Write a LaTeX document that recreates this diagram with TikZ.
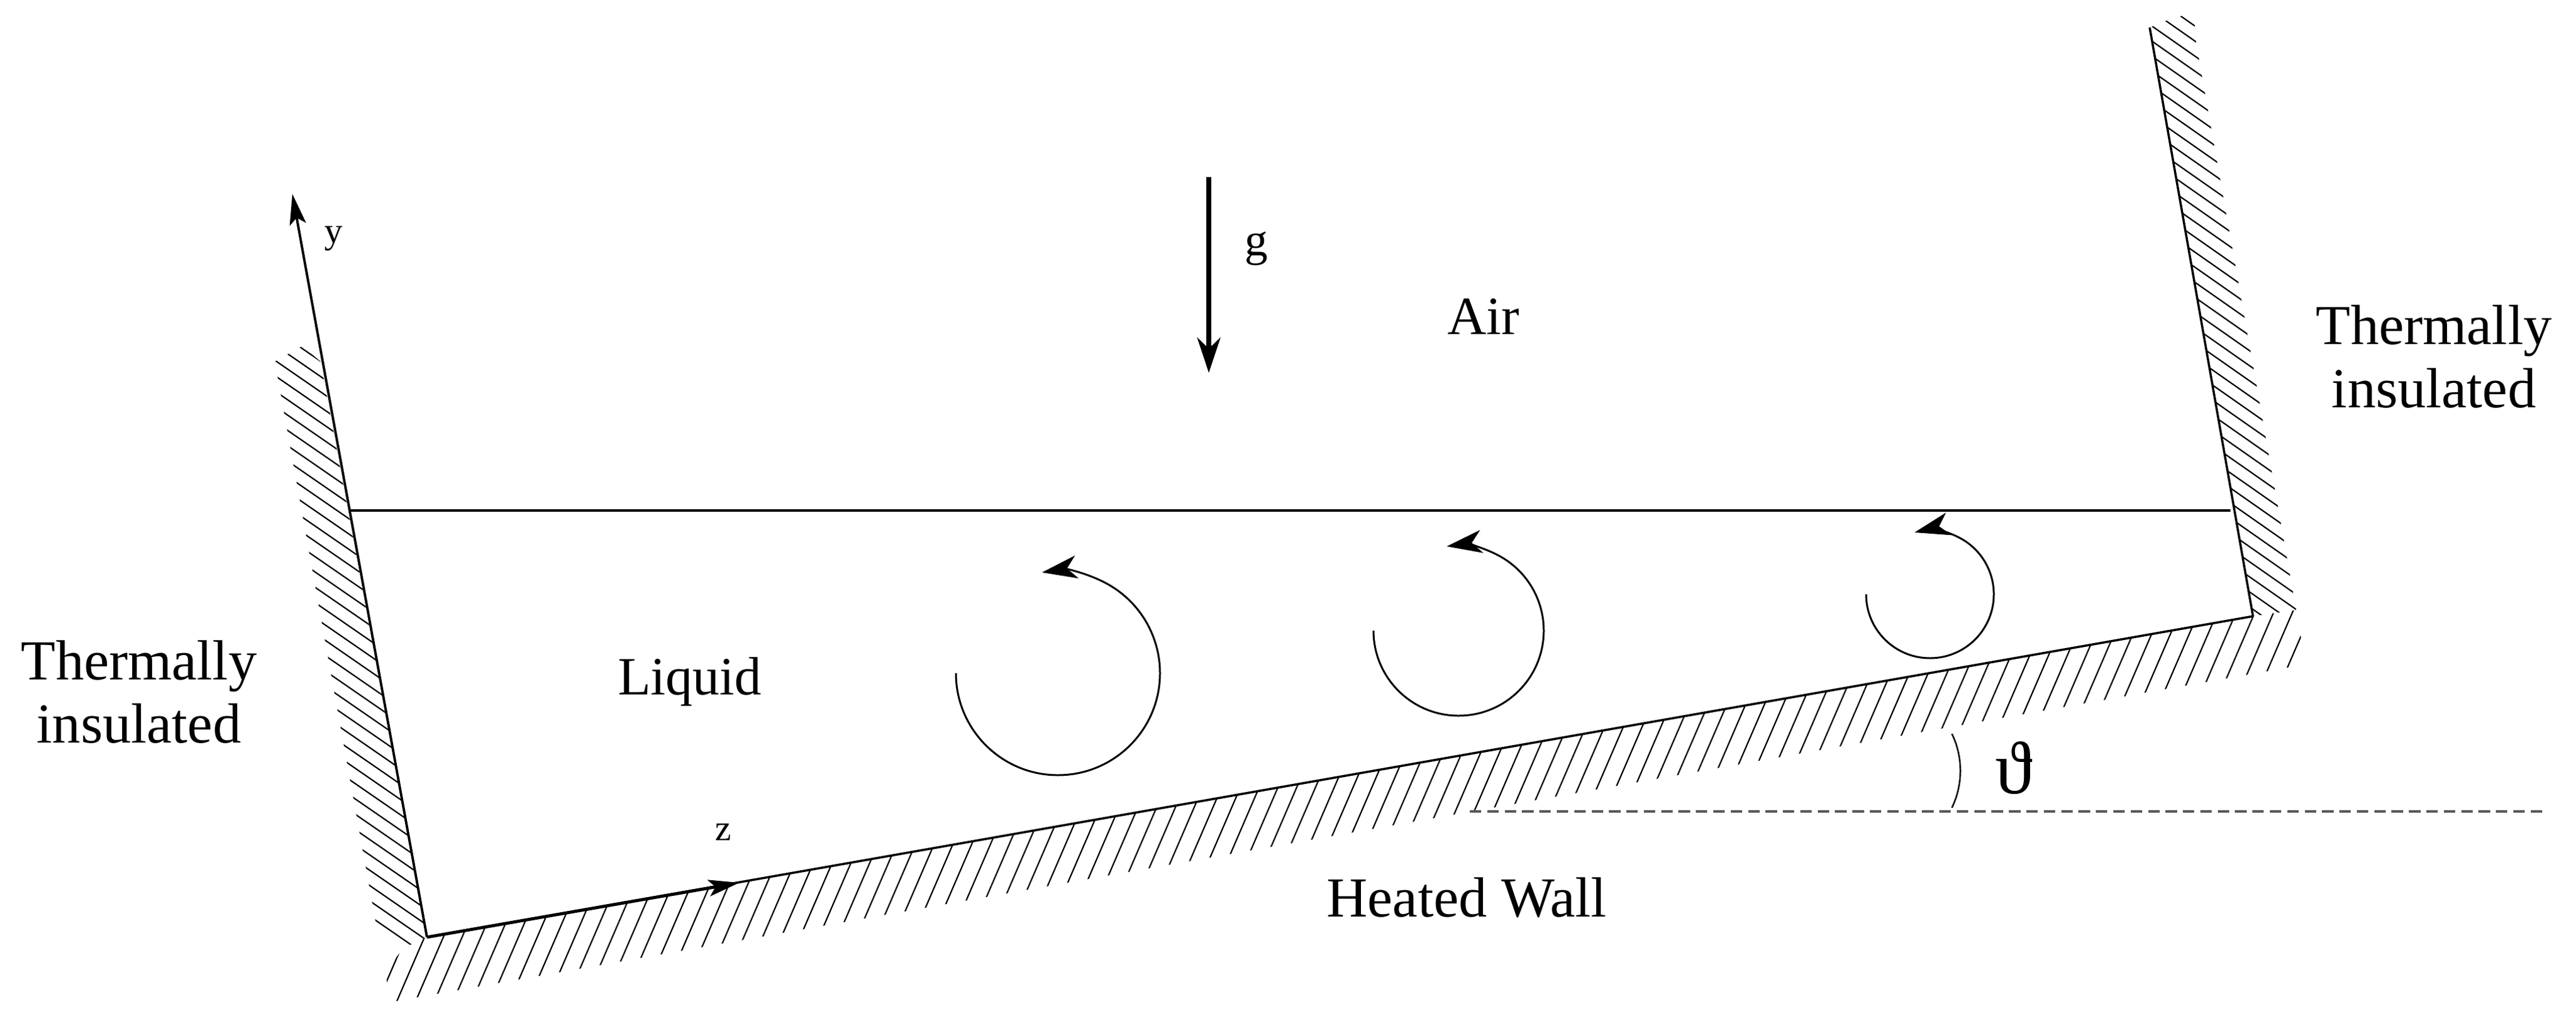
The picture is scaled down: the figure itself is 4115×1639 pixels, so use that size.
\documentclass[tikz,border=0pt]{standalone}
\usepackage{fontspec}
\setmainfont{Liberation Serif}
\usetikzlibrary{arrows.meta}
\tikzset{
  wall/.style={draw=black,line width=1pt},
  hatch/.style={draw=black,line width=.62pt},
  axisline/.style={draw=black,line width=1.1pt},
  swirl/.style={draw=black,line width=.85pt,>={Stealth[length=16pt,width=10.5pt,inset=4.5pt]}}
}
\begin{document}
\begin{tikzpicture}[x=0.01cm,y=-0.01cm,>={Stealth[length=14pt,width=7.5pt,inset=3pt]}]
	\useasboundingbox (0,0) rectangle (4115,1639);

	\coordinate (O) at (682,1498);
	\coordinate (Y) at (467,310);
	\coordinate (Z) at (1181,1411);
	\coordinate (BR) at (3599,985);
	\coordinate (TR) at (3434,44);
	\coordinate (LL) at (559,816);
	\coordinate (LR) at (3563,816);
	\coordinate (G0) at (1931,283);
	\coordinate (G1) at (1931,596);
	\coordinate (D0) at (2348,1297);
	\coordinate (D1) at (4062,1297);
	\coordinate (A0) at (3118,1173);
	\coordinate (A1) at (3118,1291);

	% hatching of the left wall
	\begin{scope}
		\clip (439,578) -- (483,553) -- (512,578) -- (O) -- (645,1515) -- (603,1490) -- cycle;
		\foreach \h in {500,524.5,...,1350}
			\draw[hatch] (400,\h) -- ++(300,207);
	\end{scope}
	% hatching of the right wall
	\begin{scope}
		\clip (TR) -- (3463,32) -- (3490,24) -- (3506,40) -- (3508,68) -- (3668,975) -- (BR) -- cycle;
		\foreach \h in {-32.8,-8.7,...,850}
			\draw[hatch] (3400,\h) -- ++(300,210);
	\end{scope}
	% hatching of the heated wall
	\begin{scope}
		\clip (O) -- (BR) -- (3668,975) -- (3683,1062) -- (622,1602) -- (616,1552) -- (645,1515) -- cycle;
		\foreach \h in {531,561,...,3420}
			\draw[hatch] (\h,1700) -- ++(345,-800);
	\end{scope}

	% walls and axes
	\draw[axisline,->] (O) -- (Y);
	\draw[wall] (O) -- (BR);
	\draw[axisline,line width=1.4pt,->] (O) -- (Z);
	\draw[wall] (BR) -- (TR);
	\draw[wall] (LL) -- (LR);
	\draw[axisline,line width=2.2pt,>={Stealth[length=16pt,width=10.5pt,inset=5pt]},->] (G0) -- (G1);

	% angle
	\draw[draw=black!65,line width=1.3pt,dash pattern=on 5.2pt off 2.7pt] (D0) -- (D1);
	\draw[draw=black,line width=.7pt] (A0) .. controls (3136,1210) and (3136,1254) .. (A1);

	% rolls
	\draw[swirl,->] (1527,1076) arc[start angle=180,end angle=-99,radius=163];
	\draw[swirl,->] (2194,1008) arc[start angle=180,end angle=-98,radius=136];
	\draw[swirl,->] (2981,950) arc[start angle=180,end angle=-104,radius=102];

	\begin{scope}[every node/.style={inner sep=0pt,font=\fontsize{24.5}{28.5}\selectfont}]
		\node (air) at (2370,506) {Air};
		\node (liquid) at (1102,1090) {Liquid};
		\node[font=\fontsize{25.7}{28.5}\selectfont] (heated) at (2343,1435) {Heated Wall};
		\node[align=center,font=\fontsize{25.7}{28.5}\selectfont] (insL) at (222,1106) {Thermally\\insulated};
		\node[align=center,font=\fontsize{25.7}{28.5}\selectfont] (insR) at (3888,570) {Thermally\\insulated};
		\node[font=\fontsize{21}{24}\selectfont] (g) at (2007,398) {g};
		\node[font=\fontsize{16.5}{20}\selectfont] (y) at (533,381) {y};
		\node[font=\fontsize{16.5}{20}\selectfont] (z) at (1155,1330) {z};
		\node[font=\fontsize{34}{38}\selectfont] (theta) at (3217,1228) {ϑ};
	\end{scope}
\end{tikzpicture}
\end{document}
